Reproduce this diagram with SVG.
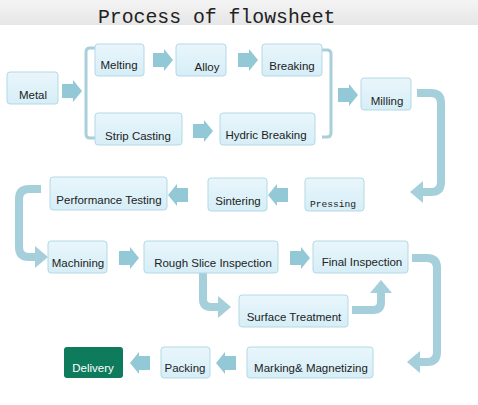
<svg xmlns="http://www.w3.org/2000/svg" width="478" height="405" viewBox="0 0 478 405">
<defs>
<linearGradient id="tb" x1="0" y1="0" x2="0" y2="1"><stop offset="0" stop-color="#f4f4f4"/><stop offset="1" stop-color="#e6e6e6"/></linearGradient>
<linearGradient id="bx" x1="0" y1="0" x2="0" y2="1"><stop offset="0" stop-color="#e9f6fb"/><stop offset="1" stop-color="#d6eef7"/></linearGradient>
<path id="ar" d="M-20,-7 H-9 V-11 L0,0 L-9,11 V7 H-20 Z"/>
<path id="ph" d="M0,0 L-13,-11 V11 Z"/>
</defs>
<style>
.box{fill:url(#bx);stroke:#b3d9e6;stroke-width:1}
.t{font-family:"Liberation Sans",Arial,sans-serif;font-size:11.5px;fill:#222;text-anchor:middle}
.mono{font-family:"Liberation Mono","DejaVu Sans Mono",monospace}
.arrow{fill:#93c8d7}
.pipe{fill:none;stroke:#a5cfdb;stroke-width:8}
.br{fill:none;stroke:#a9cfda;stroke-width:3}
.phd{fill:#a5cfdb}
</style>
<rect x="0" y="0" width="478" height="25" fill="url(#tb)"/>
<text x="98" y="23" class="mono" font-size="19.8" fill="#222">Process of flowsheet</text>

<g id="connectors">
<path class="br" d="M95,48 H90 Q86,48 86,52 V134 Q86,138 90,138 H95"/>
<path class="br" d="M322,50 H327 Q331,50 331,54 V133 Q331,137 327,137 H322"/>
<use href="#ar" class="arrow" transform="translate(82,91)"/>
<use href="#ar" class="arrow" transform="translate(173,60)"/>
<use href="#ar" class="arrow" transform="translate(258,60)"/>
<use href="#ar" class="arrow" transform="translate(213,131)"/>
<use href="#ar" class="arrow" transform="translate(358,95)"/>
<use href="#ar" class="arrow" transform="translate(268,195) rotate(180)"/>
<use href="#ar" class="arrow" transform="translate(168,195) rotate(180)"/>
<use href="#ar" class="arrow" transform="translate(139,258)"/>
<use href="#ar" class="arrow" transform="translate(310,258)"/>
<use href="#ar" class="arrow" transform="translate(216,363) rotate(180)"/>
<use href="#ar" class="arrow" transform="translate(130,363) rotate(180)"/>
<path class="pipe" d="M417,93 H431 Q441,93 441,103 V182 Q441,192 431,192 H422"/>
<use href="#ph" class="phd" transform="translate(410,192) rotate(180)"/>
<path class="pipe" d="M41,189 H29 Q19,189 19,199 V247 Q19,257 29,257 H36"/>
<use href="#ph" class="phd" transform="translate(48,257)"/>
<path class="pipe" d="M203,273 V299 Q203,307 211,307 H219"/>
<use href="#ph" class="phd" transform="translate(231,307)"/>
<path class="pipe" d="M352,310 H373 Q381,310 381,302 V292"/>
<use href="#ph" class="phd" transform="translate(381,280) rotate(-90)"/>
<path class="pipe" d="M412,258 H427 Q437,258 437,268 V352 Q437,362 427,362 H419"/>
<use href="#ph" class="phd" transform="translate(407,362) rotate(180)"/>
</g>

<g id="metal"><rect class="box" x="7" y="72" width="51" height="32" rx="3"/><text class="t" x="33" y="99">Metal</text></g>
<g id="melting"><rect class="box" x="95" y="44" width="49" height="32" rx="3"/><text class="t" x="119" y="69">Melting</text></g>
<g id="alloy"><rect class="box" x="176" y="44" width="50" height="32" rx="3"/><text class="t" x="207" y="71">Alloy</text></g>
<g id="breaking"><rect class="box" x="262" y="44" width="60" height="32" rx="3"/><text class="t" x="292" y="70">Breaking</text></g>
<g id="strip-casting"><rect class="box" x="95" y="113" width="87" height="32" rx="3"/><text class="t" x="138" y="140">Strip Casting</text></g>
<g id="hydric-breaking"><rect class="box" x="220" y="113" width="95" height="32" rx="3"/><text class="t" x="266" y="139">Hydric Breaking</text></g>
<g id="milling"><rect class="box" x="361" y="78" width="50" height="32" rx="3"/><text class="t" x="387" y="105">Milling</text></g>
<g id="performance-testing"><rect class="box" x="50" y="177" width="117" height="33" rx="3"/><text class="t" x="109" y="204">Performance Testing</text></g>
<g id="sintering"><rect class="box" x="208" y="178" width="59" height="33" rx="3"/><text class="t" x="238" y="205">Sintering</text></g>
<g id="pressing"><rect class="box" x="305" y="178" width="59" height="33" rx="3"/><text class="mono" x="333" y="207" font-size="9.6" fill="#222" text-anchor="middle">Pressing</text></g>
<g id="machining"><rect class="box" x="48" y="241" width="59" height="32" rx="3"/><text class="t" x="78" y="267">Machining</text></g>
<g id="rough-slice-inspection"><rect class="box" x="144" y="241" width="134" height="32" rx="3"/><text class="t" x="213" y="267">Rough Slice Inspection</text></g>
<g id="final-inspection"><rect class="box" x="313" y="241" width="95" height="32" rx="3"/><text class="t" x="362" y="266">Final Inspection</text></g>
<g id="surface-treatment"><rect class="box" x="239" y="295" width="109" height="32" rx="3"/><text class="t" x="294" y="321">Surface Treatment</text></g>
<g id="marking-magnetizing"><rect class="box" x="247" y="347" width="126" height="31" rx="3"/><text class="t" x="311" y="372">Marking&amp; Magnetizing</text></g>
<g id="packing"><rect class="box" x="161" y="347" width="49" height="31" rx="3"/><text class="t" x="185" y="372">Packing</text></g>
<g id="delivery"><rect x="64" y="347" width="59" height="31" rx="3" fill="#0f7b5d"/><text class="t" x="93" y="372" style="fill:#ffffff">Delivery</text></g>
</svg>
